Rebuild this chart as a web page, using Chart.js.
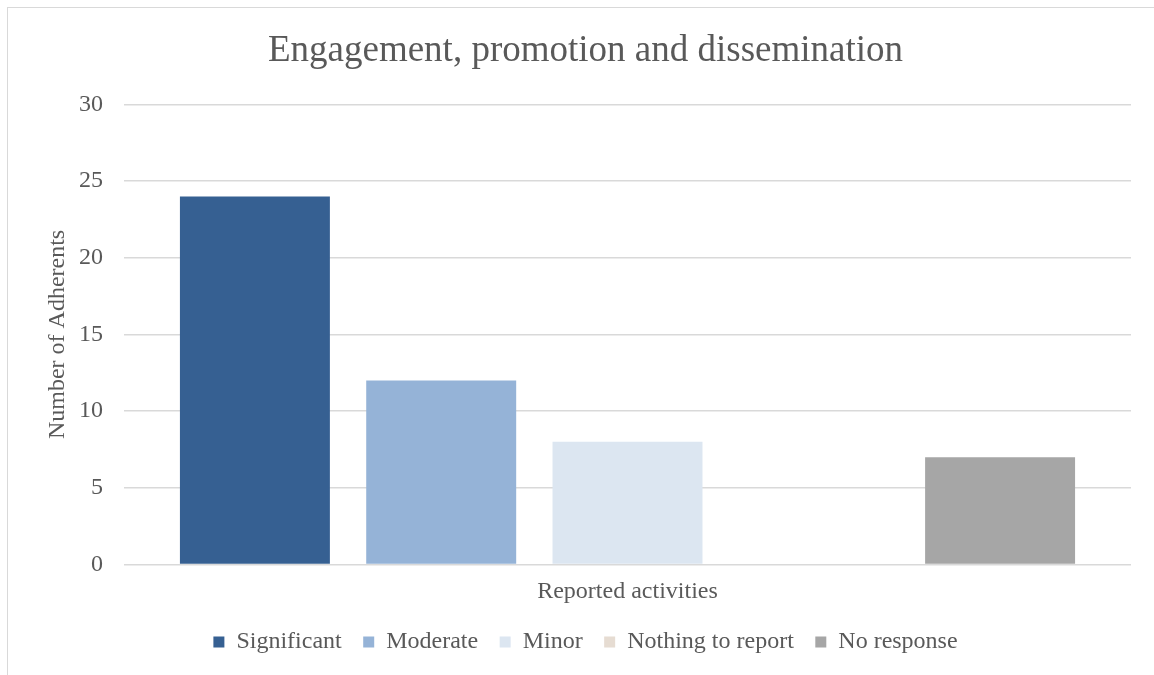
<!DOCTYPE html>
<html lang="en">
<head>
  <meta charset="UTF-8" />
  <title>Engagement, promotion and dissemination</title>
  <script src="https://cdn.jsdelivr.net/npm/chart.js"></script>
  <style>
    html, body { margin: 0; padding: 0; background: #fff; overflow: hidden; }
    .frame {
      position: absolute; left: 7px; top: 7px; width: 1200px; height: 720px;
      border: 1.5px solid #d9d9d9; box-sizing: border-box;
    }
    .wrap { position: absolute; left: 0; top: 0; width: 1154px; height: 675px; }
  </style>
</head>
<body>
  <div class="frame"></div>
  <div class="wrap"><canvas id="grafico"></canvas></div>

  <script>
    // dados
    const categorias = [''];
    const series = ['Significant', 'Moderate', 'Minor', 'Nothing to report', 'No response'];
    const valores = [24, 12, 8, 0, 7];
    const cores = ['#366092', '#95b3d7', '#dce6f1', '#e6dcd2', '#a6a6a6'];
    const ticksY = [0, 5, 10, 15, 20, 25, 30];

    const fonte = '"Liberation Serif", "Times New Roman", serif';
    const cinza = '#595959';

    new Chart(document.getElementById('grafico'), {
      type: 'bar',
      data: {
        labels: categorias,
        datasets: series.map((nome, i) => ({
          label: nome,
          data: [valores[i]],
          backgroundColor: cores[i],
          borderWidth: 0,
          barPercentage: 0.805,
          categoryPercentage: 0.925
        }))
      },
      options: {
        responsive: true,
        maintainAspectRatio: false,
        animation: false,
        layout: { padding: { left: 40, right: 23, top: 13, bottom: 11 } },
        plugins: {
          title: {
            display: true,
            text: 'Engagement, promotion and dissemination',
            color: cinza,
            font: { family: fonte, size: 37, weight: 'normal' },
            padding: { top: 16, bottom: 31 }
          },
          legend: {
            position: 'bottom',
            labels: {
              color: cinza,
              font: { family: fonte, size: 24 },
              boxWidth: 11,
              boxHeight: 11,
              padding: 21.5
            }
          },
          tooltip: { enabled: false }
        },
        scales: {
          x: {
            grid: { display: false, drawTicks: false },
            border: { display: false },
            ticks: { display: false },
            title: {
              display: true,
              text: 'Reported activities',
              color: cinza,
              font: { family: fonte, size: 24 },
              padding: { top: 12.6, bottom: 2.6 }
            }
          },
          y: {
            min: 0,
            max: 30,
            afterBuildTicks: eixo => { eixo.ticks = ticksY.map(v => ({ value: v })); },
            grid: { color: '#d9d9d9', lineWidth: 1.5, drawTicks: false },
            border: { display: false },
            ticks: {
              color: cinza,
              font: { family: fonte, size: 24 },
              padding: 21
            },
            title: {
              display: true,
              text: 'Number of Adherents',
              color: cinza,
              font: { family: fonte, size: 24 },
              padding: { top: 3.6, bottom: -14.4 }
            }
          }
        }
      }
    });
  </script>
</body>
</html>
